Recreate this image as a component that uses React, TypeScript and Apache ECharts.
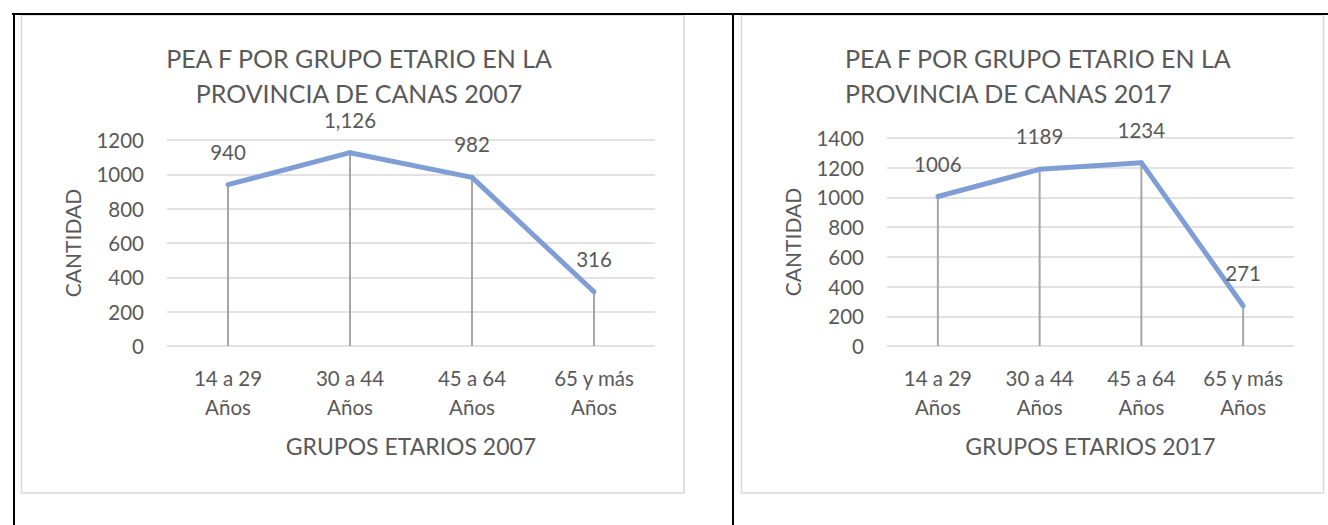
import React, { useEffect, useRef } from "react";
import * as echarts from "echarts";

const categories = ["14 a 29\nAños", "30 a 44\nAños", "45 a 64\nAños", "65 y más\nAños"];
const values2007 = [940, 1126, 982, 316];
const values2017 = [1006, 1189, 1234, 271];
const title2007 = "PEA F POR GRUPO ETARIO EN LA\nPROVINCIA DE CANAS 2007";
const title2017 = "PEA F POR GRUPO ETARIO EN LA\nPROVINCIA DE CANAS 2017";
const xName2007 = "GRUPOS ETARIOS 2007";
const xName2017 = "GRUPOS ETARIOS 2017";
const yName = "CANTIDAD";

const FONT = "Lato";
const TXT = "#595959";
const GRID = "#d9d9d9";
const LINE = "#809ed6";
const DROP = "#a6a6a6";

export default function App() {
  const ref = useRef<HTMLDivElement>(null);
  useEffect(() => {
    if (!ref.current) return;
    const chart = echarts.init(ref.current, null, { renderer: "svg" });
    const xAxis = (gi: number, name: string) => ({
      type: "category",
      gridIndex: gi,
      data: categories,
      name,
      nameLocation: "middle",
      nameGap: 88,
      nameTextStyle: { color: TXT, fontFamily: FONT, fontSize: 23 },
      axisLine: { show: false },
      axisTick: { show: false },
      axisLabel: { color: TXT, fontFamily: FONT, fontSize: 20.5, lineHeight: 29, margin: 17, interval: 0 },
      splitLine: { show: false },
    });
    const yAxis = (gi: number, max: number) => ({
      type: "value",
      gridIndex: gi,
      min: 0,
      max,
      interval: 200,
      name: yName,
      nameLocation: "middle",
      nameGap: 84,
      nameTextStyle: { color: TXT, fontFamily: FONT, fontSize: 21 },
      axisLine: { show: false },
      axisTick: { show: false },
      axisLabel: { color: TXT, fontFamily: FONT, fontSize: 20.5, margin: 23, formatter: (v: number) => String(v) },
      splitLine: { show: true, lineStyle: { color: GRID, width: 1.5 } },
    });
    const lineSeries = (gi: number, data: number[], fmt: (v: number) => string) => ({
      type: "line",
      xAxisIndex: gi,
      yAxisIndex: gi,
      data,
      symbol: "circle",
      symbolSize: 5,
      itemStyle: { color: LINE },
      lineStyle: { color: LINE, width: 5 },
      z: 5,
      label: {
        show: true,
        position: "top",
        distance: 20,
        color: TXT,
        fontFamily: FONT,
        fontSize: 20.5,
        formatter: (p: any) => fmt(p.value),
      },
    });
    const dropSeries = (gi: number, data: number[]) => ({
      type: "bar",
      xAxisIndex: gi,
      yAxisIndex: gi,
      data,
      barWidth: 2,
      itemStyle: { color: DROP },
      silent: true,
      z: 2,
    });
    chart.setOption({
      animation: false,
      backgroundColor: "#ffffff",
      title: [
        {
          text: title2007,
          left: 354,
          top: 35,
          textAlign: "center",
          textStyle: { color: TXT, fontFamily: FONT, fontSize: 25, fontWeight: "normal", lineHeight: 35 },
        },
        {
          text: title2017,
          left: 840,
          top: 35,
          textAlign: "left",
          textStyle: { color: TXT, fontFamily: FONT, fontSize: 25, fontWeight: "normal", lineHeight: 35, align: "left" },
        },
      ],
      grid: [
        { left: 167, right: 673, top: 140, bottom: 179 },
        { left: 887, right: 34, top: 138, bottom: 179 },
      ],
      xAxis: [xAxis(0, xName2007), xAxis(1, xName2017)],
      yAxis: [yAxis(0, 1200), yAxis(1, 1400)],
      series: [
        dropSeries(0, values2007),
        lineSeries(0, values2007, (v) => v.toLocaleString("en-US")),
        dropSeries(1, values2017),
        lineSeries(1, values2017, (v) => String(v)),
      ],
      graphic: [
        { type: "rect", shape: { x: 21.5, y: 15, width: 662.5, height: 478 }, style: { fill: "none", stroke: GRID, lineWidth: 1.5 }, silent: true },
        { type: "rect", shape: { x: 741.5, y: 15, width: 582, height: 478 }, style: { fill: "none", stroke: GRID, lineWidth: 1.5 }, silent: true },
        { type: "line", shape: { x1: 12, y1: 14, x2: 1328, y2: 14 }, style: { stroke: "#000", lineWidth: 2 }, silent: true },
        { type: "line", shape: { x1: 14, y1: 13, x2: 14, y2: 525 }, style: { stroke: "#000", lineWidth: 2 }, silent: true },
        { type: "line", shape: { x1: 733, y1: 13, x2: 733, y2: 525 }, style: { stroke: "#000", lineWidth: 2 }, silent: true },
      ],
    });
    return () => chart.dispose();
  }, []);
  return <div ref={ref} style={{ position: "absolute", left: 0, top: 0, width: 1328, height: 525 }} />;
}
